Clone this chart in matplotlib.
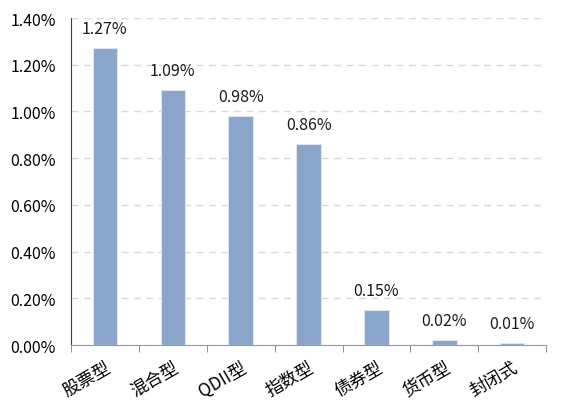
import numpy as np
import matplotlib.pyplot as plt
from matplotlib.ticker import FuncFormatter, FixedLocator

plt.rcParams['font.family'] = ['Noto Sans CJK SC', 'DejaVu Sans']

categories = ['股票型', '混合型', 'QDII型', '指数型', '债券型', '货币型', '封闭式']
values = [1.27, 1.09, 0.98, 0.86, 0.15, 0.02, 0.01]
labels = ['1.27%', '1.09%', '0.98%', '0.86%', '0.15%', '0.02%', '0.01%']

fig = plt.figure(figsize=(5.66, 4.14), dpi=100)
ax = fig.add_axes([0.1254, 0.164, 0.8396, 0.79])

x = np.arange(len(categories))
bars = ax.bar(x, values, width=0.36, color='#8AA5CA', edgecolor='#DCE5F0', linewidth=0.8, zorder=3)

for b, lab in zip(bars, labels):
    ax.annotate(lab, (b.get_x() + b.get_width() / 2, b.get_height()),
                xytext=(0, 8), textcoords='offset points',
                ha='center', va='bottom', fontsize=11.5, color='#1a1a1a')

ax.set_xlim(-0.5, len(categories) - 0.5)
ax.set_ylim(0, 1.40)
ax.set_yticks(np.arange(0, 1.41, 0.2))
ax.yaxis.set_major_formatter(FuncFormatter(lambda v, p: f'{v:.2f}%'))
ax.grid(axis='y', color='#D9D9D9', linestyle=(0, (5, 4)), linewidth=1, zorder=0)

ax.set_xticks(x)
ax.set_xticklabels(categories, rotation=30, ha='right', rotation_mode='anchor', fontsize=12.5)
ax.xaxis.set_minor_locator(FixedLocator(np.arange(-0.5, len(categories), 1.0)))
ax.tick_params(axis='x', which='major', length=0, pad=9)
ax.tick_params(axis='x', which='minor', length=5, color='#7f7f7f', direction='out')
ax.tick_params(axis='y', length=0, labelsize=11.5, pad=11)

for s in ['top', 'right']:
    ax.spines[s].set_visible(False)
ax.spines['left'].set_color('#404040')
ax.spines['bottom'].set_color('#9a9a9a')

fig.savefig('out.png', dpi=100)
